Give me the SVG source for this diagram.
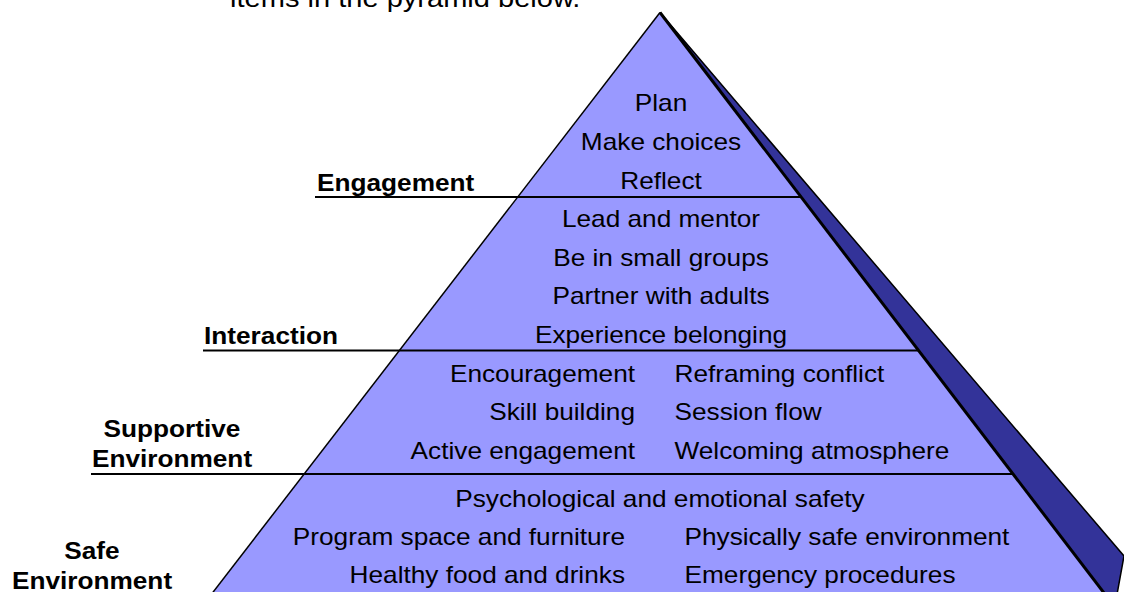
<svg xmlns="http://www.w3.org/2000/svg" width="1124" height="592" viewBox="0 0 1124 592">
<style>
.t{font-family:"Liberation Sans",Arial,sans-serif;font-size:23px;fill:#000}
.b{font-weight:bold}
.m{text-anchor:middle}
.e{text-anchor:end}
.div{stroke:#000;stroke-width:2;fill:none}
</style>
<rect width="1124" height="592" fill="#fff"/>
<g id="intro">
<text class="t" style="font-size:25.5px" transform="translate(230,7) scale(1.14,1)">items in the pyramid below.</text>
</g>
<g id="pyramid">
<polygon points="660,12.5 1124,556 1116,600 1109.4,600" fill="#333399" stroke="#000" stroke-width="1.5" stroke-linejoin="miter"/>
<polygon points="660,12.5 1109.4,600 207,600" fill="#9999ff" stroke="none"/>
<line x1="660" y1="12.5" x2="207" y2="600" stroke="#000" stroke-width="1.5"/>
<line x1="660" y1="12.5" x2="1109.4" y2="600" stroke="#000" stroke-width="3"/>
</g>
<g id="connectors">
<line class="div" x1="315" y1="197" x2="802" y2="197"/>
<line class="div" x1="203" y1="350.5" x2="918" y2="350.5"/>
<line class="div" x1="91" y1="474" x2="1013" y2="474"/>
</g>
<g id="tier-engagement">
<text class="t m" transform="translate(661,111) scale(1.14,1)">Plan</text>
<text class="t m" transform="translate(661,150) scale(1.14,1)">Make choices</text>
<text class="t m" transform="translate(661,188.5) scale(1.14,1)">Reflect</text>
</g>
<g id="tier-interaction">
<text class="t m" transform="translate(661,227) scale(1.14,1)">Lead and mentor</text>
<text class="t m" transform="translate(661,265.5) scale(1.14,1)">Be in small groups</text>
<text class="t m" transform="translate(661,304) scale(1.14,1)">Partner with adults</text>
<text class="t m" transform="translate(661,343) scale(1.14,1)">Experience belonging</text>
</g>
<g id="tier-supportive">
<text class="t e" transform="translate(635,382) scale(1.14,1)">Encouragement</text>
<text class="t e" transform="translate(635,420) scale(1.14,1)">Skill building</text>
<text class="t e" transform="translate(635,458.5) scale(1.14,1)">Active engagement</text>
<text class="t" transform="translate(674.5,382) scale(1.14,1)">Reframing conflict</text>
<text class="t" transform="translate(674.5,420) scale(1.14,1)">Session flow</text>
<text class="t" transform="translate(674.5,458.5) scale(1.14,1)">Welcoming atmosphere</text>
</g>
<g id="tier-safe">
<text class="t m" transform="translate(660,507) scale(1.14,1)">Psychological and emotional safety</text>
<text class="t e" transform="translate(625,545.3) scale(1.14,1)">Program space and furniture</text>
<text class="t e" transform="translate(625,583) scale(1.14,1)">Healthy food and drinks</text>
<text class="t" transform="translate(684.5,545.3) scale(1.14,1)">Physically safe environment</text>
<text class="t" transform="translate(684.5,583) scale(1.14,1)">Emergency procedures</text>
</g>
<g id="label-engagement">
<text class="t b" transform="translate(317,190.5) scale(1.14,1)">Engagement</text>
</g>
<g id="label-interaction">
<text class="t b" transform="translate(204,344) scale(1.14,1)">Interaction</text>
</g>
<g id="label-supportive">
<text class="t b m" transform="translate(172,436.5) scale(1.14,1)">Supportive</text>
<text class="t b m" transform="translate(172,466.5) scale(1.14,1)">Environment</text>
</g>
<g id="label-safe">
<text class="t b m" transform="translate(92,559) scale(1.14,1)">Safe</text>
<text class="t b m" transform="translate(92,589) scale(1.14,1)">Environment</text>
</g>
</svg>
